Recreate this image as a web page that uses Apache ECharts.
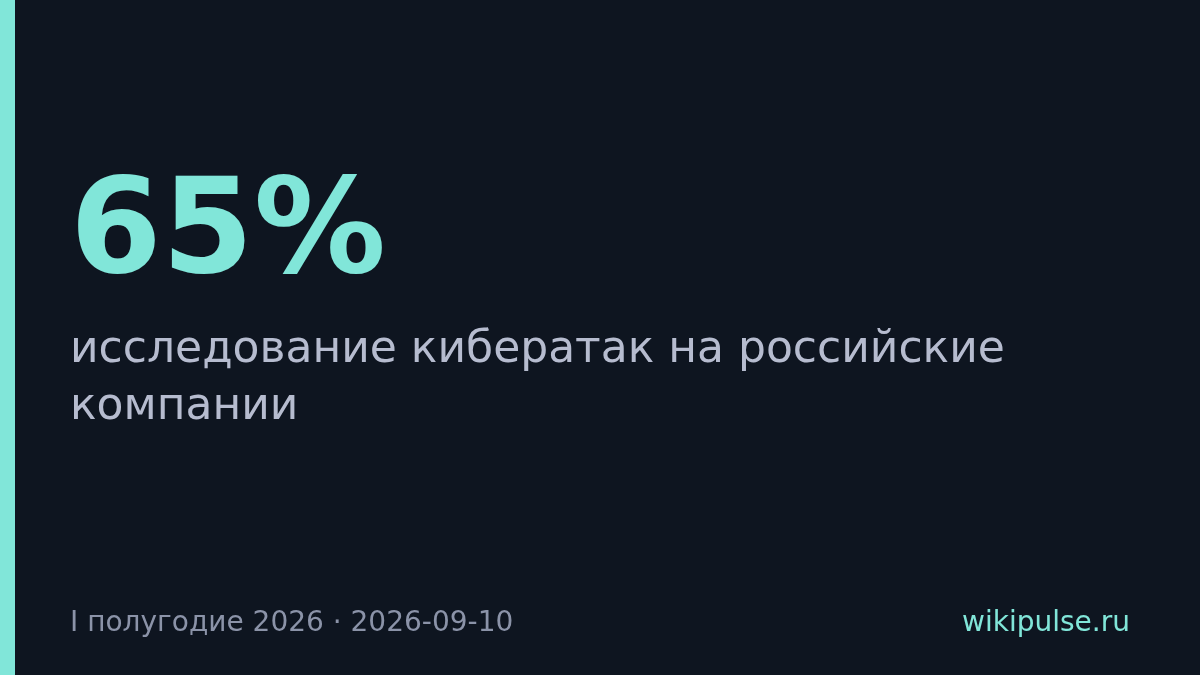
<!DOCTYPE html>
<html>
<head>
<meta charset="utf-8">
<script src="https://cdn.jsdelivr.net/npm/echarts@6/dist/echarts.min.js"></script>
<style>
html,body{margin:0;padding:0;background:#0e1520;}
#c{width:1200px;height:675px;}
</style>
</head>
<body>
<div id="c"></div>
<script>
var headline = ['65%'];
var subtitleLines = ['исследование кибератак на российские', 'компании'];
var footerLeft = ['I полугодие 2026 · 2026-09-10'];
var footerRight = ['wikipulse.ru'];

var FONT = '"DejaVu Sans", sans-serif';
var chart = echarts.init(document.getElementById('c'), null, {renderer: 'canvas'});
chart.setOption({
  backgroundColor: '#0e1520',
  graphic: [
    {type: 'rect', left: 0, top: 0, shape: {width: 15, height: 675}, style: {fill: '#81e6d9'}},
    {type: 'text', x: 70, y: 238, style: {text: headline[0], font: 'bold 132px ' + FONT, fill: '#81e6d9', verticalAlign: 'middle', align: 'left'}},
    {type: 'text', x: 70, y: 322, style: {text: subtitleLines.join('\n'), font: '44px ' + FONT, fill: '#b6bccf', lineHeight: 57, verticalAlign: 'top', align: 'left'}},
    {type: 'text', x: 70, y: 624, style: {text: footerLeft[0], font: '28px ' + FONT, fill: '#8b93a8', verticalAlign: 'middle', align: 'left'}},
    {type: 'text', x: 1130, y: 624, style: {text: footerRight[0], font: '28px ' + FONT, fill: '#81e6d9', verticalAlign: 'middle', align: 'right'}}
  ]
});
</script>
</body>
</html>
